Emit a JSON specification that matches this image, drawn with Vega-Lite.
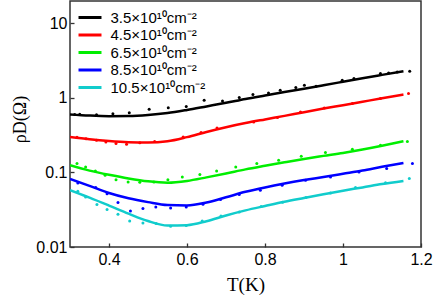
{
  "$schema": "https://vega.github.io/schema/vega-lite/v6.json",
  "width": 351,
  "height": 246,
  "autosize": {"type": "none"},
  "padding": {"left": 70, "top": 1, "right": 15, "bottom": 57},
  "background": "white",
  "config": {
    "view": {"stroke": "#333333", "strokeWidth": 1.5},
    "axis": {
      "domain": false,
      "grid": false,
      "tickSize": -4,
      "tickColor": "#333333",
      "tickWidth": 1.3,
      "labelFont": "Liberation Sans",
      "labelFontSize": 16,
      "labelColor": "#000000",
      "titleFont": "Liberation Serif",
      "titleFontWeight": "normal",
      "titleColor": "#000000"
    },
    "legend": {
      "labelFont": "Liberation Sans",
      "labelFontSize": 15,
      "labelColor": "#000000"
    }
  },
  "datasets": {
    "fit": [
      {"s": "3.5×10¹⁰cm⁻²", "T": 0.30, "r": 0.60},
      {"s": "3.5×10¹⁰cm⁻²", "T": 0.35, "r": 0.58},
      {"s": "3.5×10¹⁰cm⁻²", "T": 0.40, "r": 0.57},
      {"s": "3.5×10¹⁰cm⁻²", "T": 0.45, "r": 0.572},
      {"s": "3.5×10¹⁰cm⁻²", "T": 0.50, "r": 0.59},
      {"s": "3.5×10¹⁰cm⁻²", "T": 0.55, "r": 0.627},
      {"s": "3.5×10¹⁰cm⁻²", "T": 0.60, "r": 0.69},
      {"s": "3.5×10¹⁰cm⁻²", "T": 0.65, "r": 0.77},
      {"s": "3.5×10¹⁰cm⁻²", "T": 0.70, "r": 0.86},
      {"s": "3.5×10¹⁰cm⁻²", "T": 0.75, "r": 0.97},
      {"s": "3.5×10¹⁰cm⁻²", "T": 0.80, "r": 1.08},
      {"s": "3.5×10¹⁰cm⁻²", "T": 0.85, "r": 1.2},
      {"s": "3.5×10¹⁰cm⁻²", "T": 0.90, "r": 1.33},
      {"s": "3.5×10¹⁰cm⁻²", "T": 0.95, "r": 1.48},
      {"s": "3.5×10¹⁰cm⁻²", "T": 1.00, "r": 1.65},
      {"s": "3.5×10¹⁰cm⁻²", "T": 1.05, "r": 1.84},
      {"s": "3.5×10¹⁰cm⁻²", "T": 1.10, "r": 2.04},
      {"s": "3.5×10¹⁰cm⁻²", "T": 1.155, "r": 2.28},
      {"s": "4.5×10¹⁰cm⁻²", "T": 0.30, "r": 0.30},
      {"s": "4.5×10¹⁰cm⁻²", "T": 0.35, "r": 0.28},
      {"s": "4.5×10¹⁰cm⁻²", "T": 0.40, "r": 0.265},
      {"s": "4.5×10¹⁰cm⁻²", "T": 0.45, "r": 0.255},
      {"s": "4.5×10¹⁰cm⁻²", "T": 0.50, "r": 0.252},
      {"s": "4.5×10¹⁰cm⁻²", "T": 0.55, "r": 0.262},
      {"s": "4.5×10¹⁰cm⁻²", "T": 0.60, "r": 0.298},
      {"s": "4.5×10¹⁰cm⁻²", "T": 0.65, "r": 0.35},
      {"s": "4.5×10¹⁰cm⁻²", "T": 0.70, "r": 0.405},
      {"s": "4.5×10¹⁰cm⁻²", "T": 0.75, "r": 0.46},
      {"s": "4.5×10¹⁰cm⁻²", "T": 0.80, "r": 0.515},
      {"s": "4.5×10¹⁰cm⁻²", "T": 0.85, "r": 0.575},
      {"s": "4.5×10¹⁰cm⁻²", "T": 0.90, "r": 0.645},
      {"s": "4.5×10¹⁰cm⁻²", "T": 0.95, "r": 0.72},
      {"s": "4.5×10¹⁰cm⁻²", "T": 1.00, "r": 0.80},
      {"s": "4.5×10¹⁰cm⁻²", "T": 1.05, "r": 0.89},
      {"s": "4.5×10¹⁰cm⁻²", "T": 1.10, "r": 0.99},
      {"s": "4.5×10¹⁰cm⁻²", "T": 1.155, "r": 1.11},
      {"s": "6.5×10¹⁰cm⁻²", "T": 0.30, "r": 0.125},
      {"s": "6.5×10¹⁰cm⁻²", "T": 0.35, "r": 0.106},
      {"s": "6.5×10¹⁰cm⁻²", "T": 0.40, "r": 0.093},
      {"s": "6.5×10¹⁰cm⁻²", "T": 0.45, "r": 0.083},
      {"s": "6.5×10¹⁰cm⁻²", "T": 0.50, "r": 0.076},
      {"s": "6.5×10¹⁰cm⁻²", "T": 0.55, "r": 0.073},
      {"s": "6.5×10¹⁰cm⁻²", "T": 0.60, "r": 0.077},
      {"s": "6.5×10¹⁰cm⁻²", "T": 0.65, "r": 0.086},
      {"s": "6.5×10¹⁰cm⁻²", "T": 0.70, "r": 0.097},
      {"s": "6.5×10¹⁰cm⁻²", "T": 0.75, "r": 0.11},
      {"s": "6.5×10¹⁰cm⁻²", "T": 0.80, "r": 0.123},
      {"s": "6.5×10¹⁰cm⁻²", "T": 0.85, "r": 0.137},
      {"s": "6.5×10¹⁰cm⁻²", "T": 0.90, "r": 0.152},
      {"s": "6.5×10¹⁰cm⁻²", "T": 0.95, "r": 0.167},
      {"s": "6.5×10¹⁰cm⁻²", "T": 1.00, "r": 0.183},
      {"s": "6.5×10¹⁰cm⁻²", "T": 1.05, "r": 0.203},
      {"s": "6.5×10¹⁰cm⁻²", "T": 1.10, "r": 0.228},
      {"s": "6.5×10¹⁰cm⁻²", "T": 1.155, "r": 0.262},
      {"s": "8.5×10¹⁰cm⁻²", "T": 0.30, "r": 0.082},
      {"s": "8.5×10¹⁰cm⁻²", "T": 0.35, "r": 0.066},
      {"s": "8.5×10¹⁰cm⁻²", "T": 0.40, "r": 0.053},
      {"s": "8.5×10¹⁰cm⁻²", "T": 0.45, "r": 0.045},
      {"s": "8.5×10¹⁰cm⁻²", "T": 0.50, "r": 0.040},
      {"s": "8.5×10¹⁰cm⁻²", "T": 0.55, "r": 0.0365},
      {"s": "8.5×10¹⁰cm⁻²", "T": 0.60, "r": 0.036},
      {"s": "8.5×10¹⁰cm⁻²", "T": 0.65, "r": 0.0395},
      {"s": "8.5×10¹⁰cm⁻²", "T": 0.70, "r": 0.0465},
      {"s": "8.5×10¹⁰cm⁻²", "T": 0.75, "r": 0.055},
      {"s": "8.5×10¹⁰cm⁻²", "T": 0.80, "r": 0.063},
      {"s": "8.5×10¹⁰cm⁻²", "T": 0.85, "r": 0.071},
      {"s": "8.5×10¹⁰cm⁻²", "T": 0.90, "r": 0.079},
      {"s": "8.5×10¹⁰cm⁻²", "T": 0.95, "r": 0.087},
      {"s": "8.5×10¹⁰cm⁻²", "T": 1.00, "r": 0.096},
      {"s": "8.5×10¹⁰cm⁻²", "T": 1.05, "r": 0.106},
      {"s": "8.5×10¹⁰cm⁻²", "T": 1.10, "r": 0.119},
      {"s": "8.5×10¹⁰cm⁻²", "T": 1.155, "r": 0.134},
      {"s": "10.5×10¹⁰cm⁻²", "T": 0.30, "r": 0.058},
      {"s": "10.5×10¹⁰cm⁻²", "T": 0.35, "r": 0.046},
      {"s": "10.5×10¹⁰cm⁻²", "T": 0.40, "r": 0.036},
      {"s": "10.5×10¹⁰cm⁻²", "T": 0.45, "r": 0.028},
      {"s": "10.5×10¹⁰cm⁻²", "T": 0.50, "r": 0.0223},
      {"s": "10.5×10¹⁰cm⁻²", "T": 0.55, "r": 0.0194},
      {"s": "10.5×10¹⁰cm⁻²", "T": 0.60, "r": 0.0196},
      {"s": "10.5×10¹⁰cm⁻²", "T": 0.65, "r": 0.0222},
      {"s": "10.5×10¹⁰cm⁻²", "T": 0.70, "r": 0.0265},
      {"s": "10.5×10¹⁰cm⁻²", "T": 0.75, "r": 0.031},
      {"s": "10.5×10¹⁰cm⁻²", "T": 0.80, "r": 0.0355},
      {"s": "10.5×10¹⁰cm⁻²", "T": 0.85, "r": 0.0405},
      {"s": "10.5×10¹⁰cm⁻²", "T": 0.90, "r": 0.0455},
      {"s": "10.5×10¹⁰cm⁻²", "T": 0.95, "r": 0.051},
      {"s": "10.5×10¹⁰cm⁻²", "T": 1.00, "r": 0.057},
      {"s": "10.5×10¹⁰cm⁻²", "T": 1.05, "r": 0.063},
      {"s": "10.5×10¹⁰cm⁻²", "T": 1.10, "r": 0.070},
      {"s": "10.5×10¹⁰cm⁻²", "T": 1.155, "r": 0.077}
    ],
    "pts": [
      {"s": "3.5×10¹⁰cm⁻²", "T": 0.312, "r": 0.60},
      {"s": "3.5×10¹⁰cm⁻²", "T": 0.325, "r": 0.605},
      {"s": "3.5×10¹⁰cm⁻²", "T": 0.368, "r": 0.595},
      {"s": "3.5×10¹⁰cm⁻²", "T": 0.41, "r": 0.615},
      {"s": "3.5×10¹⁰cm⁻²", "T": 0.452, "r": 0.635},
      {"s": "3.5×10¹⁰cm⁻²", "T": 0.503, "r": 0.705},
      {"s": "3.5×10¹⁰cm⁻²", "T": 0.552, "r": 0.74},
      {"s": "3.5×10¹⁰cm⁻²", "T": 0.598, "r": 0.77},
      {"s": "3.5×10¹⁰cm⁻²", "T": 0.644, "r": 0.93},
      {"s": "3.5×10¹⁰cm⁻²", "T": 0.691, "r": 0.912},
      {"s": "3.5×10¹⁰cm⁻²", "T": 0.734, "r": 1.012},
      {"s": "3.5×10¹⁰cm⁻²", "T": 0.769, "r": 1.11},
      {"s": "3.5×10¹⁰cm⁻²", "T": 0.809, "r": 1.167},
      {"s": "3.5×10¹⁰cm⁻²", "T": 0.839, "r": 1.268},
      {"s": "3.5×10¹⁰cm⁻²", "T": 0.879, "r": 1.38},
      {"s": "3.5×10¹⁰cm⁻²", "T": 0.901, "r": 1.48},
      {"s": "3.5×10¹⁰cm⁻²", "T": 0.931, "r": 1.435},
      {"s": "3.5×10¹⁰cm⁻²", "T": 0.998, "r": 1.728},
      {"s": "3.5×10¹⁰cm⁻²", "T": 1.028, "r": 1.82},
      {"s": "3.5×10¹⁰cm⁻²", "T": 1.096, "r": 2.13},
      {"s": "3.5×10¹⁰cm⁻²", "T": 1.117, "r": 2.17},
      {"s": "3.5×10¹⁰cm⁻²", "T": 1.139, "r": 2.23},
      {"s": "3.5×10¹⁰cm⁻²", "T": 1.171, "r": 2.28},
      {"s": "4.5×10¹⁰cm⁻²", "T": 0.318, "r": 0.297},
      {"s": "4.5×10¹⁰cm⁻²", "T": 0.341, "r": 0.284},
      {"s": "4.5×10¹⁰cm⁻²", "T": 0.368, "r": 0.27},
      {"s": "4.5×10¹⁰cm⁻²", "T": 0.392, "r": 0.256},
      {"s": "4.5×10¹⁰cm⁻²", "T": 0.418, "r": 0.245},
      {"s": "4.5×10¹⁰cm⁻²", "T": 0.445, "r": 0.24},
      {"s": "4.5×10¹⁰cm⁻²", "T": 0.479, "r": 0.25},
      {"s": "4.5×10¹⁰cm⁻²", "T": 0.517, "r": 0.26},
      {"s": "4.5×10¹⁰cm⁻²", "T": 0.59, "r": 0.30},
      {"s": "4.5×10¹⁰cm⁻²", "T": 0.636, "r": 0.345},
      {"s": "4.5×10¹⁰cm⁻²", "T": 0.677, "r": 0.395},
      {"s": "4.5×10¹⁰cm⁻²", "T": 0.771, "r": 0.476},
      {"s": "4.5×10¹⁰cm⁻²", "T": 0.832, "r": 0.546},
      {"s": "4.5×10¹⁰cm⁻²", "T": 0.891, "r": 0.649},
      {"s": "4.5×10¹⁰cm⁻²", "T": 0.952, "r": 0.734},
      {"s": "4.5×10¹⁰cm⁻²", "T": 1.024, "r": 0.841},
      {"s": "4.5×10¹⁰cm⁻²", "T": 1.096, "r": 0.982},
      {"s": "4.5×10¹⁰cm⁻²", "T": 1.168, "r": 1.146},
      {"s": "6.5×10¹⁰cm⁻²", "T": 0.318, "r": 0.132},
      {"s": "6.5×10¹⁰cm⁻²", "T": 0.340, "r": 0.118},
      {"s": "6.5×10¹⁰cm⁻²", "T": 0.365, "r": 0.105},
      {"s": "6.5×10¹⁰cm⁻²", "T": 0.390, "r": 0.092},
      {"s": "6.5×10¹⁰cm⁻²", "T": 0.418, "r": 0.080},
      {"s": "6.5×10¹⁰cm⁻²", "T": 0.449, "r": 0.0745},
      {"s": "6.5×10¹⁰cm⁻²", "T": 0.479, "r": 0.074},
      {"s": "6.5×10¹⁰cm⁻²", "T": 0.515, "r": 0.0745},
      {"s": "6.5×10¹⁰cm⁻²", "T": 0.551, "r": 0.080},
      {"s": "6.5×10¹⁰cm⁻²", "T": 0.588, "r": 0.087},
      {"s": "6.5×10¹⁰cm⁻²", "T": 0.633, "r": 0.094},
      {"s": "6.5×10¹⁰cm⁻²", "T": 0.676, "r": 0.105},
      {"s": "6.5×10¹⁰cm⁻²", "T": 0.725, "r": 0.118},
      {"s": "6.5×10¹⁰cm⁻²", "T": 0.779, "r": 0.132},
      {"s": "6.5×10¹⁰cm⁻²", "T": 0.835, "r": 0.146},
      {"s": "6.5×10¹⁰cm⁻²", "T": 0.893, "r": 0.165},
      {"s": "6.5×10¹⁰cm⁻²", "T": 0.955, "r": 0.185},
      {"s": "6.5×10¹⁰cm⁻²", "T": 1.024, "r": 0.205},
      {"s": "6.5×10¹⁰cm⁻²", "T": 1.096, "r": 0.232},
      {"s": "6.5×10¹⁰cm⁻²", "T": 1.165, "r": 0.26},
      {"s": "8.5×10¹⁰cm⁻²", "T": 0.32, "r": 0.072},
      {"s": "8.5×10¹⁰cm⁻²", "T": 0.366, "r": 0.0627},
      {"s": "8.5×10¹⁰cm⁻²", "T": 0.395, "r": 0.052},
      {"s": "8.5×10¹⁰cm⁻²", "T": 0.423, "r": 0.0394},
      {"s": "8.5×10¹⁰cm⁻²", "T": 0.455, "r": 0.0304},
      {"s": "8.5×10¹⁰cm⁻²", "T": 0.487, "r": 0.0328},
      {"s": "8.5×10¹⁰cm⁻²", "T": 0.52, "r": 0.0344},
      {"s": "8.5×10¹⁰cm⁻²", "T": 0.558, "r": 0.0334},
      {"s": "8.5×10¹⁰cm⁻²", "T": 0.598, "r": 0.0344},
      {"s": "8.5×10¹⁰cm⁻²", "T": 0.641, "r": 0.0374},
      {"s": "8.5×10¹⁰cm⁻²", "T": 0.686, "r": 0.0433},
      {"s": "8.5×10¹⁰cm⁻²", "T": 0.734, "r": 0.0505},
      {"s": "8.5×10¹⁰cm⁻²", "T": 0.788, "r": 0.0577},
      {"s": "8.5×10¹⁰cm⁻²", "T": 0.844, "r": 0.0673},
      {"s": "8.5×10¹⁰cm⁻²", "T": 0.904, "r": 0.0786},
      {"s": "8.5×10¹⁰cm⁻²", "T": 0.968, "r": 0.087},
      {"s": "8.5×10¹⁰cm⁻²", "T": 1.041, "r": 0.1016},
      {"s": "8.5×10¹⁰cm⁻²", "T": 1.112, "r": 0.113},
      {"s": "8.5×10¹⁰cm⁻²", "T": 1.178, "r": 0.132},
      {"s": "10.5×10¹⁰cm⁻²", "T": 0.32, "r": 0.056},
      {"s": "10.5×10¹⁰cm⁻²", "T": 0.34, "r": 0.0469},
      {"s": "10.5×10¹⁰cm⁻²", "T": 0.369, "r": 0.0371},
      {"s": "10.5×10¹⁰cm⁻²", "T": 0.395, "r": 0.0318},
      {"s": "10.5×10¹⁰cm⁻²", "T": 0.423, "r": 0.0275},
      {"s": "10.5×10¹⁰cm⁻²", "T": 0.453, "r": 0.0223},
      {"s": "10.5×10¹⁰cm⁻²", "T": 0.487, "r": 0.021},
      {"s": "10.5×10¹⁰cm⁻²", "T": 0.521, "r": 0.0206},
      {"s": "10.5×10¹⁰cm⁻²", "T": 0.558, "r": 0.019},
      {"s": "10.5×10¹⁰cm⁻²", "T": 0.598, "r": 0.0195},
      {"s": "10.5×10¹⁰cm⁻²", "T": 0.639, "r": 0.0223},
      {"s": "10.5×10¹⁰cm⁻²", "T": 0.687, "r": 0.026},
      {"s": "10.5×10¹⁰cm⁻²", "T": 0.734, "r": 0.0295},
      {"s": "10.5×10¹⁰cm⁻²", "T": 0.79, "r": 0.035},
      {"s": "10.5×10¹⁰cm⁻²", "T": 0.845, "r": 0.040},
      {"s": "10.5×10¹⁰cm⁻²", "T": 0.905, "r": 0.046},
      {"s": "10.5×10¹⁰cm⁻²", "T": 0.968, "r": 0.053},
      {"s": "10.5×10¹⁰cm⁻²", "T": 1.032, "r": 0.0627},
      {"s": "10.5×10¹⁰cm⁻²", "T": 1.109, "r": 0.073},
      {"s": "10.5×10¹⁰cm⁻²", "T": 1.17, "r": 0.083}
    ]
  },
  "layer": [
    {
      "data": {"name": "fit"},
      "mark": {"type": "line", "strokeWidth": 2.5, "interpolate": "monotone", "clip": true},
      "encoding": {
        "x": {
          "field": "T", "type": "quantitative",
          "scale": {"domain": [0.3, 1.2], "nice": false, "zero": false},
          "axis": {"values": [0.4, 0.6, 0.8, 1, 1.2], "format": ".1~f", "title": "T(K)", "titleFontSize": 19, "labelPadding": 8, "titlePadding": 8, "labelFlush": false}
        },
        "y": {
          "field": "r", "type": "quantitative",
          "scale": {"type": "log", "domain": [0.01, 20], "nice": false},
          "axis": {"values": [0.01, 0.1, 1, 10], "format": "~g", "title": "ρD(Ω)", "titleFontSize": 18, "titleY": 118, "labelPadding": 7, "titlePadding": 6, "labelFlush": false}
        },
        "color": {
          "field": "s", "type": "nominal",
          "scale": {
            "domain": ["3.5×10¹⁰cm⁻²", "4.5×10¹⁰cm⁻²", "6.5×10¹⁰cm⁻²", "8.5×10¹⁰cm⁻²", "10.5×10¹⁰cm⁻²"],
            "range": ["#000000", "#ff0000", "#00ee00", "#0000ff", "#11cccc"]
          },
          "legend": {
            "title": null,
            "orient": "none",
            "legendX": 12.5,
            "legendY": 9,
            "padding": 0,
            "symbolType": "M-2,0H2",
            "symbolSize": 132,
            "symbolStrokeWidth": 3,
            "labelOffset": 13,
            "rowPadding": 1.5
          }
        }
      }
    },
    {
      "data": {"name": "pts"},
      "mark": {"type": "circle", "size": 9, "opacity": 1},
      "encoding": {
        "x": {"field": "T", "type": "quantitative"},
        "y": {"field": "r", "type": "quantitative"},
        "color": {"field": "s", "type": "nominal", "legend": null}
      }
    }
  ]
}
